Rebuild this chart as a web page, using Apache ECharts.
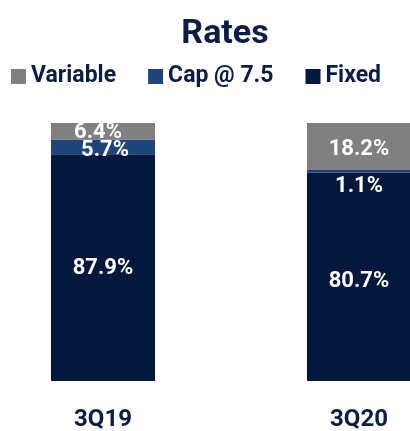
<!DOCTYPE html>
<html>
<head>
<meta charset="utf-8">
<script src="https://cdn.jsdelivr.net/npm/echarts@6/dist/echarts.min.js"></script>
<style>
  html, body { margin: 0; padding: 0; background: #fff; }
  #rates_chart { width: 410px; height: 431px; }
</style>
</head>
<body>
<div id="rates_chart"></div>
<script>
var categories = ['3Q19', '3Q20'];
var fixedValues = [87.9, 80.7];
var capValues = [5.7, 1.1];
var variableValues = [6.4, 18.2];

var navy = '#0b1d42';
var font = 'Roboto';

function pctLabel() {
  return {
    show: true,
    position: 'inside',
    color: '#fff',
    fontFamily: font,
    fontWeight: 'bold',
    fontSize: 22,
    formatter: function (p) { return p.value.toFixed(1) + '%'; }
  };
}

function withOffsets(values, offsets) {
  return values.map(function (v, i) {
    return { value: v, label: { offset: offsets[i] } };
  });
}

var chart = echarts.init(document.getElementById('rates_chart'));
chart.setOption({
  animation: false,
  title: {
    text: 'Rates',
    left: 220,
    top: 12,
    textAlign: 'center',
    textStyle: { fontFamily: font, fontWeight: 'bold', fontSize: 34, color: navy }
  },
  legend: {
    data: ['Variable', 'Cap @ 7.5', 'Fixed'],
    left: 6,
    top: 60,
    itemWidth: 15,
    itemHeight: 15,
    itemGap: 32,
    icon: 'rect',
    textStyle: { fontFamily: font, fontWeight: 'bold', fontSize: 23, color: navy, padding: [0, 0, 0, 0] }
  },
  grid: { left: -25, right: -77, top: 123, bottom: 50, outerBoundsMode: 'none' },
  xAxis: {
    type: 'category',
    data: categories,
    axisLine: { show: false },
    axisTick: { show: false },
    axisLabel: { margin: 27, fontFamily: font, fontWeight: 'bold', fontSize: 24, color: navy }
  },
  yAxis: { type: 'value', min: 0, max: 100, show: false },
  series: [
    {
      name: 'Fixed', type: 'bar', stack: 'total', barWidth: 104,
      itemStyle: { color: '#03183c' },
      label: pctLabel(),
      data: withOffsets(fixedValues, [[0, 1], [0, 5]])
    },
    {
      name: 'Cap @ 7.5', type: 'bar', stack: 'total',
      itemStyle: { color: '#1f4479' },
      label: pctLabel(),
      data: withOffsets(capValues, [[2, 4], [0, 15]])
    },
    {
      name: 'Variable', type: 'bar', stack: 'total',
      itemStyle: { color: '#808080' },
      label: pctLabel(),
      data: withOffsets(variableValues, [[-5, 1], [0, 3]])
    }
  ]
});
</script>
</body>
</html>
